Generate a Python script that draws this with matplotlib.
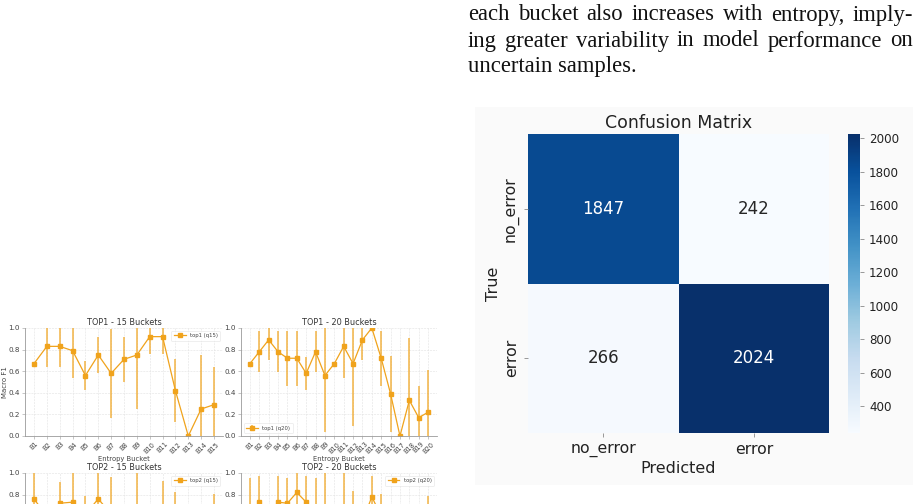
import matplotlib
matplotlib.use("Agg")
import matplotlib.pyplot as plt
import numpy as np
import seaborn as sns
from matplotlib.patches import Rectangle
from matplotlib.ticker import MultipleLocator
from matplotlib.colors import to_rgba

W, H = 920, 504

# ---------------- data ----------------
paragraph_lines = [
    "each bucket also increases with entropy, imply-",
    "ing greater variability in model performance on",
    "uncertain samples.",
]

buckets15 = ["B%d" % i for i in range(1, 16)]
buckets20 = ["B%d" % i for i in range(1, 21)]

top1_q15_f1 = [0.67, 0.83, 0.83, 0.79, 0.56, 0.75, 0.58, 0.71, 0.75, 0.92, 0.92, 0.42, 0.00, 0.25, 0.29]
top1_q15_err = [0.00, 0.19, 0.19, 0.25, 0.135, 0.165, 0.41, 0.21, 0.50, 0.16, 0.16, 0.29, 0.00, 0.50, 0.35]

top1_q20_f1 = [0.67, 0.78, 0.89, 0.78, 0.72, 0.72, 0.58, 0.78, 0.56, 0.67, 0.83, 0.67, 0.89, 1.00, 0.72,
               0.39, 0.00, 0.33, 0.17, 0.22]
top1_q20_err = [0.00, 0.19, 0.19, 0.19, 0.255, 0.255, 0.155, 0.19, 0.52, 0.00, 0.29, 0.575, 0.19, 0.00, 0.255,
                0.35, 0.00, 0.58, 0.29, 0.39]

top2_q15_f1 = [0.76, 0.60, 0.72, 0.73, 0.62, 0.76, 0.62, 0.55, 0.60, 0.52, 0.62, 0.55, 0.42, 0.35, 0.45]
top2_q15_err = [0.26, 0.10, 0.20, 0.30, 0.17, 0.30, 0.34, 0.12, 0.45, 0.15, 0.305, 0.27, 0.20, 0.30, 0.36]

top2_q20_f1 = [0.60, 0.73, 0.62, 0.73, 0.72, 0.82, 0.73, 0.60, 0.60, 0.50, 0.55, 0.60, 0.55, 0.78, 0.60,
               0.48, 0.40, 0.38, 0.42, 0.50]
top2_q20_err = [0.355, 0.245, 0.08, 0.245, 0.235, 0.20, 0.245, 0.355, 0.45, 0.15, 0.50, 0.23, 0.15, 0.19, 0.21,
                0.20, 0.25, 0.30, 0.28, 0.285]

yticks_f1 = [0.0, 0.2, 0.4, 0.6, 0.8, 1.0]

cm_labels = ["no_error", "error"]
cm_values = [[1847, 242],
             [266, 2024]]

# ---------------- figure ----------------
fig = plt.figure(figsize=(W / 100, H / 100), dpi=100)
fig.patch.set_facecolor("white")


def box(l, t, r, b):
    return [l / W, 1 - b / H, (r - l) / W, (b - t) / H]


ORANGE = "#f0a31c"
ORANGE_ERR = to_rgba(ORANGE, 0.75)


def panel(rect, cats, vals, errs, title, label, loc, ylabel, cut_bottom):
    ax = fig.add_axes(rect)
    x = np.arange(len(cats))
    ax.errorbar(x, vals, yerr=errs, color=ORANGE, ecolor=ORANGE_ERR, elinewidth=1.2,
                lw=0.9, marker="s", ms=2.4, capsize=0, label=label)
    ax.set_ylim(0, 1.0)
    ax.set_xticks(x)
    ax.set_yticks(yticks_f1)
    if cut_bottom:
        # the lower part of these panels lies below the page edge:
        # only the tick labels that fall inside the page are shown
        ax.set_yticklabels(["%.1f" % v if v >= 0.8 else "" for v in yticks_f1])
        ax.set_xticklabels([""] * len(cats))
    else:
        ax.set_xticklabels(cats, rotation=45, fontsize=4.8, color="#444444")
        ax.set_xlabel("Entropy Bucket", fontsize=4.9, color="#444444", labelpad=1)
    ax.tick_params(axis="y", labelsize=5.2, labelcolor="#444444")
    ax.tick_params(length=2, width=0.4, color="#999999", pad=1.5)
    ax.grid(True, ls="--", lw=0.4, color="#e2e2e2")
    ax.set_axisbelow(True)
    for s in ("top", "right"):
        ax.spines[s].set_visible(False)
    for s in ("left", "bottom"):
        ax.spines[s].set_color("#9a9a9a")
        ax.spines[s].set_linewidth(0.6)
    ax.set_title(title, fontsize=5.9, color="#333333", pad=2.5)
    if ylabel and not cut_bottom:
        ax.set_ylabel("Macro F1", fontsize=5.0, color="#444444", labelpad=0.5)
    leg = ax.legend(loc=loc, fontsize=3.8, frameon=True, borderpad=0.5,
                    handlelength=2.2, labelcolor="#444444")
    leg.get_frame().set_edgecolor("#dddddd")
    leg.get_frame().set_linewidth(0.4)
    return ax


panel(box(25, 328, 223, 436), buckets15, top1_q15_f1, top1_q15_err,
      "TOP1 - 15 Buckets", "top1 (q15)", "upper right", True, False)
panel(box(241, 328, 437, 436), buckets20, top1_q20_f1, top1_q20_err,
      "TOP1 - 20 Buckets", "top1 (q20)", "lower left", False, False)
panel(box(25, 473, 223, 581), buckets15, top2_q15_f1, top2_q15_err,
      "TOP2 - 15 Buckets", "top2 (q15)", "upper right", True, True)
panel(box(241, 473, 437, 581), buckets20, top2_q20_f1, top2_q20_err,
      "TOP2 - 20 Buckets", "top2 (q20)", "upper right", False, True)

# ---------------- paragraph text (justified) ----------------
renderer = fig.canvas.get_renderer()
left_px, width_px = 468, 445
font_kw = dict(fontsize=16.3, family="Liberation Serif", color="#111111", va="baseline")
for i, line in enumerate(paragraph_lines):
    y = 1 - (20.5 + 26 * i) / H
    if i == len(paragraph_lines) - 1:
        fig.text(left_px / W, y, line, **font_kw)
        continue
    words = line.split()
    texts = [fig.text(0, y, w, **font_kw) for w in words]
    widths = [t.get_window_extent(renderer).width for t in texts]
    gap = (width_px - sum(widths)) / (len(words) - 1)
    xp = left_px
    for t, w in zip(texts, widths):
        t.set_x(xp / W)
        xp += w + gap

# ---------------- confusion matrix ----------------
fig.add_artist(Rectangle((475 / W, 1 - 485 / H), (913 - 475) / W, (485 - 107) / H,
                         transform=fig.transFigure, facecolor="#fafafa",
                         edgecolor="none", zorder=-5))

ax_cm = fig.add_axes(box(528, 134, 829, 433))
cax = fig.add_axes(box(848, 134, 860, 433))
sns.heatmap(np.array(cm_values), annot=True, fmt="d", cmap="Blues", ax=ax_cm,
            cbar_ax=cax, xticklabels=cm_labels, yticklabels=cm_labels,
            annot_kws={"size": 12})
ax_cm.set_title("Confusion Matrix", fontsize=12.5, color="#222222", pad=4)
ax_cm.set_xlabel("Predicted", fontsize=11.5, color="#222222", labelpad=3)
ax_cm.set_ylabel("True", fontsize=11.5, color="#222222", labelpad=2)
ax_cm.set_xticklabels(cm_labels, fontsize=11.3, color="#222222")
ax_cm.set_yticklabels(cm_labels, fontsize=11.3, color="#222222", rotation=90, va="center")
ax_cm.tick_params(length=3, width=0.6, color="#888888")
cax.yaxis.set_major_locator(MultipleLocator(200))
cax.tick_params(labelsize=8.6, length=3, width=0.6, color="#888888", labelcolor="#222222")

fig.savefig("out.png", dpi=100, facecolor="white")
